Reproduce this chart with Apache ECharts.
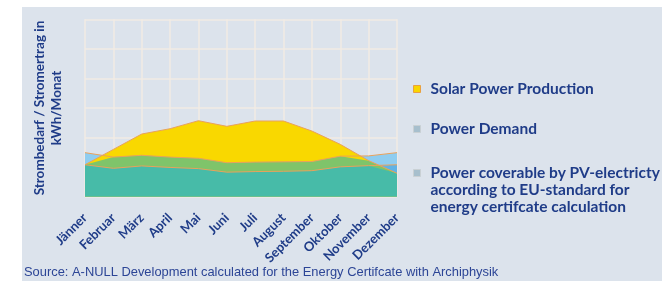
<!DOCTYPE html>
<html>
<head>
<meta charset="utf-8">
<script src="https://cdn.jsdelivr.net/npm/echarts@6/dist/echarts.min.js"></script>
<style>
html,body{margin:0;padding:0;background:#ffffff;}
#chart{width:662px;height:281px;}
</style>
</head>
<body>
<div id="chart"></div>
<script>
const months = ['Jänner','Februar','März','April','Mai','Juni','Juli','August','September','Oktober','November','Dezember'];
const solar = [108, 160, 212, 230, 257, 238, 256, 256, 222, 177, 122, 79];
const demand = [149, 134, 140, 134, 130, 115, 117, 118, 119, 137, 138, 149];
const coverable = [108, 96, 104, 99, 95, 83, 85, 86, 88, 101, 105, 108];
const yTicks = [0, 100, 200, 300, 400, 500, 600];

const NAME_SOLAR = 'Solar Power Production';
const NAME_DEMAND = 'Power Demand';
const NAME_COVER = 'Power coverable by PV-electricty';
const COVER_TEXT = '\n\nPower coverable by PV-electricty\naccording to EU-standard for\nenergy certifcate calculation';

// overlap layers (where the transparent areas of the original overlap)
const solarDemand = solar.map((v, i) => Math.min(v, demand[i]));
const allThree = solar.map((v, i) => Math.min(v, demand[i], coverable[i]));

const navy = '#1f3c88';
const lineCol = '#e9a25c';
const font = 'Lato';

function area(name, data, color, z) {
  return {
    name: name, type: 'line', data: data, z: z, symbol: 'none', silent: true,
    lineStyle: {width: 0, color: color}, itemStyle: {color: color},
    areaStyle: {color: color, opacity: 1}
  };
}
function line(name, data, z) {
  return {
    name: name, type: 'line', data: data, z: z, symbol: 'none', silent: true,
    lineStyle: {width: 1, color: lineCol}, itemStyle: {color: lineCol}
  };
}

function legend(name, top, fill, border) {
  return {
    left: 413, top: top, orient: 'vertical', padding: 0,
    icon: 'rect', itemWidth: 7, itemHeight: 7, selectedMode: false,
    data: [{name: name, itemStyle: {color: fill, borderColor: border, borderWidth: 1}}],
    formatter: n => (n === NAME_COVER ? COVER_TEXT : n),
    textStyle: {color: navy, fontFamily: font, fontWeight: 'bold', fontSize: 15.5, lineHeight: 17,
      padding: [0, 0, 0, 5]}
  };
}

const chart = echarts.init(document.getElementById('chart'), null, {renderer: 'canvas'});
chart.setOption({
  animation: false,
  backgroundColor: '#ffffff',
  graphic: [{type: 'rect', left: 22, top: 7, z: -10, silent: true,
    shape: {width: 640, height: 274}, style: {fill: '#dce3ec'}}],
  title: {
    text: 'Source: A-NULL Development calculated for the Energy Certifcate with Archiphysik',
    left: 24, top: 266, padding: 0,
    textStyle: {color: '#2c4596', fontFamily: 'Liberation Sans', fontWeight: 'normal', fontSize: 12.9}
  },
  legend: [
    legend(NAME_SOLAR, 80.5, '#f9d600', '#e9a040'),
    legend(NAME_DEMAND, 120.5, '#a7bfcd', '#c9d0d4'),
    legend(NAME_COVER, 130.5, '#a7bfcd', '#c9d0d4')
  ],
  grid: {left: 85, right: 265, top: 19.3, bottom: 84.3, containLabel: false},
  xAxis: {
    type: 'category', data: months, boundaryGap: false,
    axisLine: {show: false}, axisTick: {show: false},
    splitLine: {show: true, lineStyle: {color: '#f2ebe4', width: 1.5}},
    axisLabel: {rotate: 45, margin: 19, interval: 0, color: navy, fontFamily: font,
      fontWeight: 'bold', fontSize: 13}
  },
  yAxis: {
    type: 'value', min: yTicks[0], max: yTicks[yTicks.length - 1], interval: yTicks[1] - yTicks[0],
    name: 'Strombedarf / Stromertrag in\nkWh/Monat', nameLocation: 'middle', nameGap: 20,
    nameTextStyle: {color: navy, fontFamily: font, fontWeight: 'bold', fontSize: 13.5, lineHeight: 17, align: 'center'},
    axisLine: {show: false}, axisTick: {show: false}, axisLabel: {show: false},
    splitLine: {show: true, lineStyle: {color: '#f2ebe4', width: 1.5}}
  },
  series: [
    area(NAME_DEMAND, demand, '#8fcdf0', 1),
    area(NAME_COVER, coverable, '#60b3e6', 2),
    area(NAME_SOLAR, solar, '#f9d800', 3),
    area('overlap1', solarDemand, '#7fc46a', 4),
    area('overlap2', allThree, '#47bba8', 5),
    line('l-demand', demand, 6),
    line('l-cover', coverable, 6),
    line('l-solar', solar, 6)
  ]
});
</script>
</body>
</html>
